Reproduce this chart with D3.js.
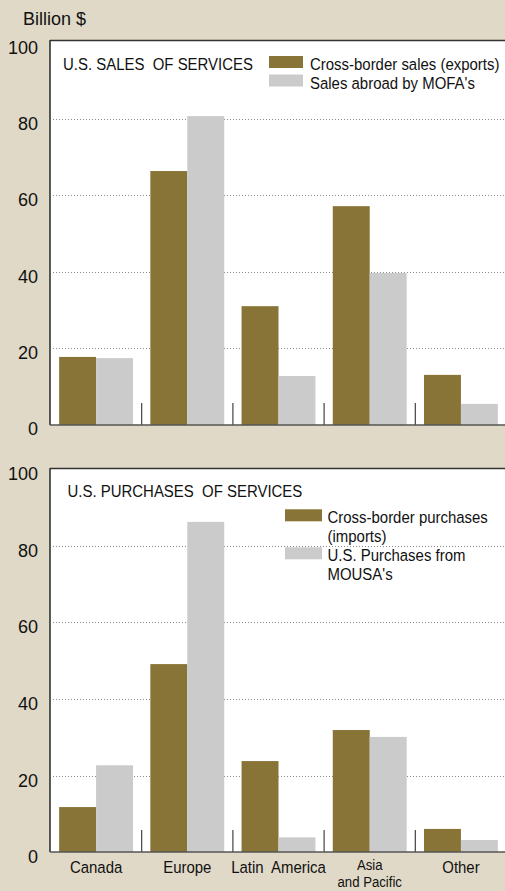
<!DOCTYPE html>
<html>
<head>
<meta charset="utf-8">
<script src="https://cdn.jsdelivr.net/npm/d3@7"></script>
<style>
  html, body { margin: 0; padding: 0; background: #e0d9c7; }
  svg { display: block; font-family: "Liberation Sans", Arial, sans-serif; }
  text { white-space: pre; }
</style>
</head>
<body>
<div id="chart"></div>
<script>
// Données (milliards de $)
const categories = ["Canada", "Europe", "Latin  America", "Asia\nand Pacific", "Other"];
const yTicks = [0, 20, 40, 60, 80, 100];

const salesSeries = ["Cross-border sales (exports)", "Sales abroad by MOFA's"];
const crossBorderSales = [17.7, 66.4, 31.0, 57.2, 13.0];
const mofaSales = [17.4, 80.8, 12.7, 39.7, 5.4];

const purchaseSeries = ["Cross-border purchases\n(imports)", "U.S. Purchases from\nMOUSA's"];
const crossBorderPurchases = [11.8, 49.1, 23.8, 31.9, 6.1];
const mousaPurchases = [22.7, 86.2, 3.9, 30.1, 3.2];

const W = 505, H = 891, left = 50;
const colors = ['#887436', '#cbcbcb'];
const condensed = 'scale(0.88,1)';

const svg = d3.select('#chart')
    .append('svg')
    .attr('width', W)
    .attr('height', H);

// Unité
svg.append('text')
    .attr('x', 23)
    .attr('y', 25)
    .attr('font-size', '18px')
    .attr('fill', '#111')
    .text('Billion $');

// Échelle horizontale commune aux deux panneaux
const x = d3.scaleBand()
    .domain(categories)
    .range([left, W + 2])
    .paddingInner(0.19)
    .paddingOuter(0.1);

const x1 = d3.scaleBand()
    .domain([0, 1])
    .range([0, x.bandwidth()]);

const panels = [
    {
        title: 'U.S. SALES  OF SERVICES',
        series: salesSeries,
        values: [crossBorderSales, mofaSales],
        top: 40, y0: 424.5, y100: 42.8,
        titlePos: [63, 69.5],
        legend: { sx: 269, sw: 34, tx: 310, base: 70, step: 18.5, line: 18.5 },
        labels: false
    },
    {
        title: 'U.S. PURCHASES  OF SERVICES',
        series: purchaseSeries,
        values: [crossBorderPurchases, mousaPurchases],
        top: 468, y0: 852.3, y100: 469,
        titlePos: [67.5, 497],
        legend: { sx: 285, sw: 37, tx: 327.5, base: 523.3, step: 38, line: 19 },
        labels: true
    }
];

panels.forEach(drawPanel);

function drawPanel(cfg) {
    const y = d3.scaleLinear().domain([0, 100]).range([cfg.y0, cfg.y100]);
    const base = Math.round(y(0));

    // Fond blanc du panneau
    svg.append('rect')
        .attr('x', left)
        .attr('y', cfg.top)
        .attr('width', W - left)
        .attr('height', base - cfg.top)
        .attr('fill', '#fff');

    // Lignes de grille pointillées
    svg.append('g')
        .selectAll('line')
        .data(yTicks.filter(d => d > 0 && d < 100))
        .join('line')
        .attr('x1', left + 3)
        .attr('x2', W)
        .attr('y1', d => Math.round(y(d)) + 0.5)
        .attr('y2', d => Math.round(y(d)) + 0.5)
        .attr('stroke', '#8a8a8a')
        .attr('stroke-dasharray', '1,2');

    // Barres groupées
    const groups = svg.append('g')
        .selectAll('g')
        .data(categories)
        .join('g')
        .attr('transform', d => `translate(${x(d)},0)`);

    groups.selectAll('rect')
        .data((d, i) => cfg.values.map((v, j) => ({ key: j, value: v[i] })))
        .join('rect')
        .attr('x', d => x1(d.key))
        .attr('width', x1.bandwidth())
        .attr('y', d => y(d.value))
        .attr('height', d => base - y(d.value))
        .attr('fill', d => colors[d.key]);

    // Petits séparateurs entre les groupes
    svg.append('g')
        .selectAll('line')
        .data(categories.slice(1))
        .join('line')
        .attr('x1', d => x(d) - x.step() * x.paddingInner() / 2)
        .attr('x2', d => x(d) - x.step() * x.paddingInner() / 2)
        .attr('y1', base)
        .attr('y2', base - 22)
        .attr('stroke', '#444')
        .attr('stroke-width', 1.2);

    // Cadre : haut, gauche, bas
    svg.append('line')
        .attr('x1', left).attr('x2', W)
        .attr('y1', cfg.top + 0.5).attr('y2', cfg.top + 0.5)
        .attr('stroke', '#333').attr('stroke-width', 1.3);
    svg.append('line')
        .attr('x1', left).attr('x2', left)
        .attr('y1', cfg.top).attr('y2', base)
        .attr('stroke', '#333').attr('stroke-width', 1.6);
    svg.append('line')
        .attr('x1', left).attr('x2', W)
        .attr('y1', base).attr('y2', base)
        .attr('stroke', '#555').attr('stroke-width', 1.6);

    // Axe vertical
    svg.append('g')
        .attr('transform', `translate(${left},0)`)
        .call(d3.axisLeft(y).tickValues(yTicks).tickSize(0).tickPadding(12))
        .call(g => g.select('.domain').remove())
        .call(g => g.selectAll('text')
            .attr('font-size', '18px')
            .attr('font-family', '"Liberation Sans", Arial, sans-serif')
            .attr('fill', '#111')
            .attr('dy', '0.58em'));

    // Titre du panneau
    svg.append('text')
        .attr('transform', `translate(${cfg.titlePos[0]},${cfg.titlePos[1]}) ${condensed}`)
        .attr('font-size', '17px')
        .attr('fill', '#111')
        .text(cfg.title);

    // Légende
    const lg = cfg.legend;
    const items = svg.append('g')
        .selectAll('g')
        .data(cfg.series)
        .join('g');

    items.append('rect')
        .attr('x', lg.sx)
        .attr('y', (d, i) => lg.base + i * lg.step - 14)
        .attr('width', lg.sw)
        .attr('height', 12)
        .attr('fill', (d, i) => colors[i]);

    items.append('text')
        .attr('transform', (d, i) => `translate(${lg.tx},${lg.base + i * lg.step}) ${condensed}`)
        .attr('font-size', '17px')
        .attr('fill', '#111')
        .selectAll('tspan')
        .data(d => d.split('\n'))
        .join('tspan')
        .attr('x', 0)
        .attr('y', (d, i) => i * lg.line)
        .text(d => d);

    // Étiquettes des catégories (panneau du bas)
    if (cfg.labels) {
        svg.append('g')
            .attr('transform', `translate(0,${y(0)})`)
            .call(d3.axisBottom(x).tickSize(0).tickPadding(9))
            .call(g => g.select('.domain').remove())
            .call(g => g.selectAll('text')
                .attr('font-size', d => d.includes('\n') ? '15px' : '17px')
                .attr('font-family', '"Liberation Sans", Arial, sans-serif')
                .attr('fill', '#111')
                .attr('dy', null)
                .attr('transform', condensed)
                .text(null)
                .selectAll('tspan')
                .data(d => d.split('\n').map((t, i, a) => ({ t, i, multi: a.length > 1 })))
                .join('tspan')
                .attr('x', 0)
                .attr('dy', d => d.i === 0 ? (d.multi ? '0.55em' : '0.71em') : '17px')
                .text(d => d.t));
    }
}
</script>
</body>
</html>
